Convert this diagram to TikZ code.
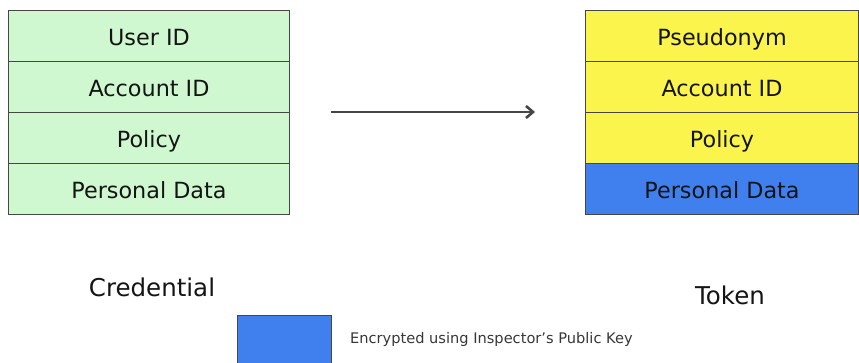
\documentclass[tikz,border=0pt]{standalone}
\usepackage{fontspec}
\setmainfont{DejaVu Sans}
\usetikzlibrary{arrows.meta}
\definecolor{credfill}{RGB}{208,248,208}
\definecolor{tokfill}{RGB}{250,244,76}
\definecolor{encfill}{RGB}{64,128,238}
\definecolor{edge}{RGB}{70,70,70}
\definecolor{ink}{RGB}{20,20,20}
\tikzset{
  field/.style={draw=edge, line width=1pt, minimum height=51pt, anchor=north west,
    inner sep=0pt, font=\fontsize{22.3}{24}\selectfont, text=ink,
    text height=20pt, text depth=0pt},
  credrow/.style={field, fill=credfill, minimum width=281pt},
  tokrow/.style={field, fill=tokfill, minimum width=273pt},
  caption/.style={font=\fontsize{24.5}{27}\selectfont, text=ink},
}
\begin{document}
\begin{tikzpicture}[x=1pt, y=-1pt]
  \useasboundingbox (0,0) rectangle (859,363);
  % credential fields
  \node[credrow] (c1) at (8,10) {User ID};
  \node[credrow] (c2) at (8,61) {Account ID};
  \node[credrow] (c3) at (8,112) {Policy};
  \node[credrow] (c4) at (8,163) {Personal Data};
  % token fields
  \node[tokrow] (t1) at (585,10) {Pseudonym};
  \node[tokrow] (t2) at (585,61) {Account ID};
  \node[tokrow] (t3) at (585,112) {Policy};
  \node[tokrow, fill=encfill] (t4) at (585,163) {Personal Data};
  % transformation arrow
  \coordinate (from) at (331,112);
  \coordinate (to) at (535,112);
  \draw[edge, line width=1.6pt, -{Straight Barb[length=7pt, width=12pt, line width=2.6pt]}] (from) -- (to);
  % captions
  \node[caption] (cred) at (152,287) {Credential};
  \node[caption] (tok) at (730,295) {Token};
  % legend
  \node[draw=edge, line width=1pt, fill=encfill, anchor=north west, minimum width=94pt,
    minimum height=52pt, inner sep=0pt] (key) at (237,315) {};
  \node[anchor=west, inner sep=0pt, font=\fontsize{14.6}{16}\selectfont, text=ink!85]
    (keytext) at (350,339) {Encrypted using Inspector’s Public Key};
\end{tikzpicture}
\end{document}
